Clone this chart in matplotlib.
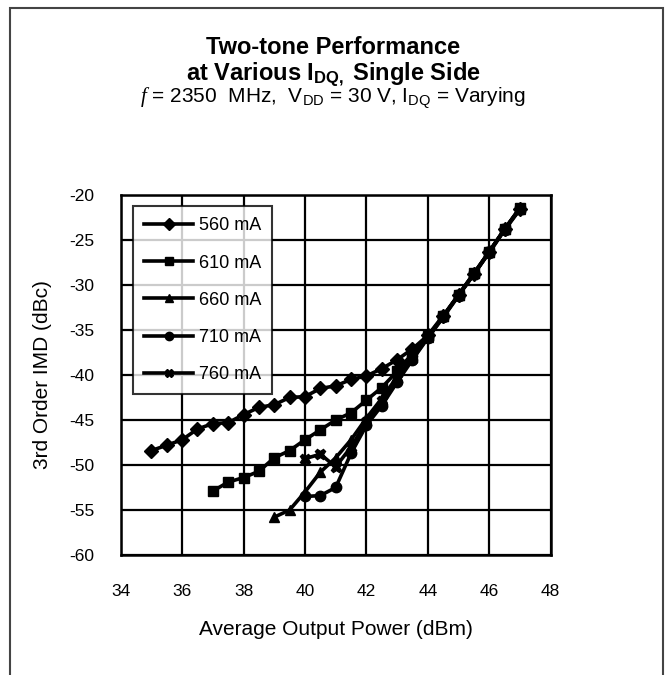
import matplotlib
matplotlib.use("Agg")
import matplotlib.pyplot as plt
from matplotlib.patches import Rectangle

plt.rcParams['font.family'] = ['Liberation Sans', 'DejaVu Sans']
plt.rcParams['mathtext.fontset'] = 'custom'
plt.rcParams['mathtext.rm'] = 'Liberation Sans'
plt.rcParams['mathtext.bf'] = 'Liberation Sans:bold'
plt.rcParams['mathtext.it'] = 'Liberation Serif:italic'
plt.rcParams['axes.unicode_minus'] = False

# ---- data ----
labels = ["560 mA", "610 mA", "660 mA", "710 mA", "760 mA"]
markers = ["D", "s", "^", "o", "X"]

x560 = [35, 35.5, 36, 36.5, 37, 37.5, 38, 38.5, 39, 39.5, 40, 40.5, 41, 41.5, 42,
        42.5, 43, 43.5, 44, 44.5, 45, 45.5, 46, 46.5, 47]
y560 = [-48.4, -47.8, -47.2, -46.0, -45.4, -45.3, -44.4, -43.6, -43.3, -42.5, -42.4,
        -41.5, -41.2, -40.5, -40.1, -39.3, -38.3, -37.1, -35.6, -33.4, -31.1, -28.8,
        -26.3, -23.8, -21.5]

x610 = [37, 37.5, 38, 38.5, 39, 39.5, 40, 40.5, 41, 41.5, 42, 42.5, 43, 43.5, 44,
        44.5, 45, 45.5, 46, 46.5, 47]
y610 = [-52.9, -51.9, -51.4, -50.7, -49.2, -48.4, -47.2, -46.1, -45.0, -44.2, -42.8,
        -41.4, -39.6, -37.6, -35.7, -33.5, -31.1, -28.7, -26.3, -23.8, -21.4]

x660 = [39, 39.5, 40, 40.5, 41, 41.5, 42, 42.5, 43, 43.5, 44, 44.5, 45, 45.5, 46,
        46.5, 47]
y660 = [-55.8, -55.0, -53.0, -50.8, -49.2, -47.2, -44.8, -42.6, -40.2, -38.0, -35.8,
        -33.5, -31.1, -28.7, -26.3, -23.8, -21.5]

x710 = [40, 40.5, 41, 41.5, 42, 42.5, 43, 43.5, 44, 44.5, 45, 45.5, 46, 46.5, 47]
y710 = [-53.5, -53.4, -52.5, -48.7, -45.6, -43.4, -40.8, -38.3, -35.9, -33.6, -31.2,
        -28.8, -26.4, -23.9, -21.6]

x760 = [40, 40.5, 41, 41.5, 42, 42.5, 43, 43.5, 44, 44.5, 45, 45.5, 46, 46.5, 47]
y760 = [-49.3, -48.8, -50.2, -48.0, -45.2, -42.9, -40.5, -38.2, -35.8, -33.5, -31.1,
        -28.8, -26.3, -23.8, -21.5]

xs = [x560, x610, x660, x710, x760]
ys = [y560, y610, y660, y710, y760]

xticks = [34, 36, 38, 40, 42, 44, 46, 48]
yticks = [-60, -55, -50, -45, -40, -35, -30, -25, -20]

# ---- figure ----
fig = plt.figure(figsize=(6.65, 6.75), dpi=100)
fig.patches.append(Rectangle((10 / 665, -0.05), 653 / 665, 1 - 8 / 675 + 0.05,
                             transform=fig.transFigure, fill=False,
                             edgecolor='#444444', linewidth=1.5))

ax = fig.add_axes([0.1815, 0.1778, 0.6466, 0.5333])
for xv, yv, lab, mk in zip(xs, ys, labels, markers):
    ax.plot(xv, yv, color='black', linewidth=2.6, marker=mk, markersize=7.5,
            markeredgecolor='black', markerfacecolor='black', label=lab,
            solid_joinstyle='round')

ax.set_xlim(34, 48)
ax.set_ylim(-60, -20)
ax.set_xticks(xticks)
ax.set_yticks(yticks)
ax.grid(True, color='black', linewidth=1.6)
ax.set_axisbelow(True)
for s in ax.spines.values():
    s.set_linewidth(1.8)
ax.tick_params(length=0, labelsize=12.5, pad=19)
ax.tick_params(axis='x', pad=21)

ax.set_xlabel("Average Output Power (dBm)", fontsize=15, labelpad=15)
ax.set_ylabel("3rd Order IMD (dBc)", fontsize=15, labelpad=12)

leg = ax.legend(loc='upper left', bbox_to_anchor=(0.0286, 0.969), borderaxespad=0,
                fontsize=13, handlelength=2.7, handletextpad=0.33, labelspacing=1.12,
                frameon=True, fancybox=False, borderpad=0.62, markerscale=0.8)
leg.get_frame().set_edgecolor('black')
leg.get_frame().set_linewidth(1.5)

fig.text(0.5008, 0.929, "Two-tone Performance", ha='center', va='center',
         fontsize=17, fontweight='bold')
fig.text(0.5008, 0.890, r"at Various I$_{\mathbf{DQ,}}$ Single Side", ha='center',
         va='center', fontsize=17, fontweight='bold')
fig.text(0.5008, 0.854,
         r"$\mathit{f}$ = 2350  MHz,  V$_{\mathrm{DD}}$ = 30 V, I$_{\mathrm{DQ}}$ = Varying",
         ha='center', va='center', fontsize=15)

fig.savefig("out.png", dpi=100)
